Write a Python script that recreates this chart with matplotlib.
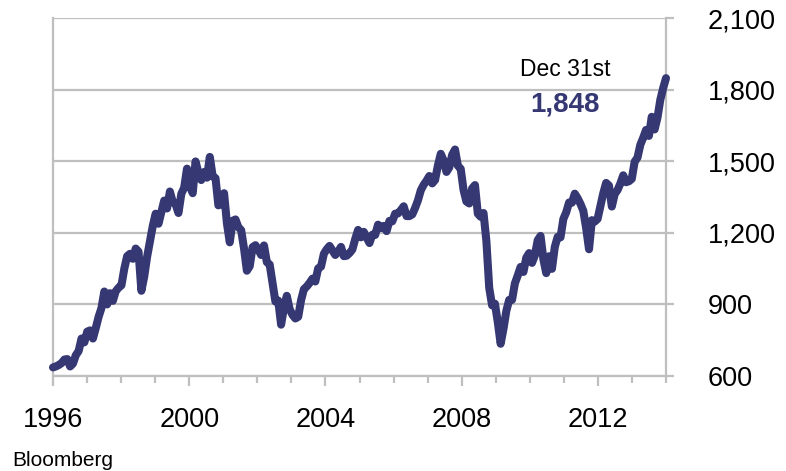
import matplotlib
matplotlib.use("Agg")
import matplotlib.pyplot as plt
from matplotlib.ticker import FuncFormatter, MultipleLocator
import numpy as np

# S&P 500 monthly closes, Jan 1996 .. Dec 2013
spx = [
    636, 640, 646, 654, 669, 671, 640, 652, 687, 705, 757, 741,          # 1996
    786, 791, 757, 801, 848, 885, 954, 900, 947, 915, 955, 970,          # 1997
    980, 1049, 1102, 1112, 1091, 1134, 1121, 957, 1017, 1099, 1164, 1229,  # 1998
    1280, 1238, 1286, 1335, 1302, 1373, 1329, 1320, 1283, 1363, 1389, 1469,  # 1999
    1395, 1366, 1499, 1452, 1421, 1455, 1431, 1518, 1437, 1429, 1315, 1320,  # 2000
    1366, 1240, 1160, 1250, 1256, 1224, 1211, 1134, 1041, 1060, 1140, 1148,  # 2001
    1130, 1107, 1147, 1077, 1067, 990, 912, 916, 815, 886, 936, 880,     # 2002
    856, 841, 848, 917, 964, 975, 990, 1008, 996, 1051, 1058, 1112,      # 2003
    1131, 1145, 1126, 1107, 1121, 1141, 1102, 1104, 1115, 1130, 1174, 1212,  # 2004
    1181, 1204, 1181, 1157, 1192, 1191, 1234, 1220, 1229, 1207, 1250, 1248,  # 2005
    1280, 1281, 1295, 1311, 1270, 1270, 1277, 1304, 1336, 1378, 1401, 1418,  # 2006
    1438, 1407, 1421, 1482, 1531, 1503, 1455, 1474, 1527, 1549, 1481, 1468,  # 2007
    1379, 1331, 1323, 1386, 1400, 1280, 1267, 1283, 1166, 969, 896, 903,  # 2008
    826, 735, 798, 873, 919, 919, 988, 1021, 1057, 1036, 1096, 1115,     # 2009
    1074, 1105, 1169, 1187, 1089, 1031, 1102, 1049, 1141, 1183, 1181, 1258,  # 2010
    1286, 1327, 1326, 1364, 1345, 1321, 1292, 1219, 1131, 1253, 1247, 1258,  # 2011
    1312, 1366, 1409, 1398, 1310, 1362, 1379, 1407, 1441, 1412, 1416, 1426,  # 2012
    1498, 1515, 1569, 1598, 1631, 1606, 1686, 1633, 1682, 1757, 1806, 1848,  # 2013
]
first_year = 1996
last_year = 2014
y_ticks = [600, 900, 1200, 1500, 1800, 2100]
x_major = [1996, 2000, 2004, 2008, 2012]
last_label = "1,848"
date_label = "Dec 31st"
source = "Bloomberg"

navy = "#363873"
grey = "#BFBFBF"
plt.rcParams["font.family"] = ["Liberation Sans", "DejaVu Sans"]

fig = plt.figure(figsize=(7.86, 4.71), dpi=100)
ax = fig.add_axes([53 / 786, 1 - 376 / 471, (666 - 53) / 786, (376 - 18) / 471])

x = np.linspace(first_year, last_year, len(spx))
ax.plot(x, spx, color=navy, lw=5.8, solid_joinstyle="round",
        solid_capstyle="round", zorder=3, clip_on=False)

ax.set_xlim(first_year, last_year)
ax.set_ylim(y_ticks[0], y_ticks[-1])

# gridlines
ax.set_yticks(y_ticks)
ax.grid(axis="y", color=grey, lw=1.6, zorder=1)
ax.set_axisbelow(True)

ax.yaxis.tick_right()
ax.yaxis.set_major_formatter(FuncFormatter(lambda v, p: f"{int(v):,}"))
ax.tick_params(axis="y", direction="out", length=6, width=1.6, color=grey,
               labelsize=19.5, pad=24)
for t in ax.get_yticklabels():
    t.set_horizontalalignment("left")

ax.set_xticks(x_major)
ax.xaxis.set_minor_locator(MultipleLocator(1))
ax.tick_params(axis="x", which="major", direction="out", length=7.5, width=1.6,
               color=grey, labelsize=19.5, pad=15)
ax.tick_params(axis="x", which="minor", direction="out", length=5, width=1.6,
               color=grey)

for side in ["left", "right", "bottom"]:
    ax.spines[side].set_color(grey)
    ax.spines[side].set_linewidth(1.6)
ax.spines["top"].set_visible(False)

fig.text(565 / 786, 1 - 69 / 471, date_label, ha="center", va="center",
         fontsize=16.5, color="black")
fig.text(565 / 786, 1 - 105 / 471, last_label, ha="center", va="center",
         fontsize=20, fontweight="bold", color=navy)
fig.text(12 / 786, 1 - 460 / 471, source, ha="left", va="center",
         fontsize=15, color="black")

fig.savefig("out.png", dpi=100)
